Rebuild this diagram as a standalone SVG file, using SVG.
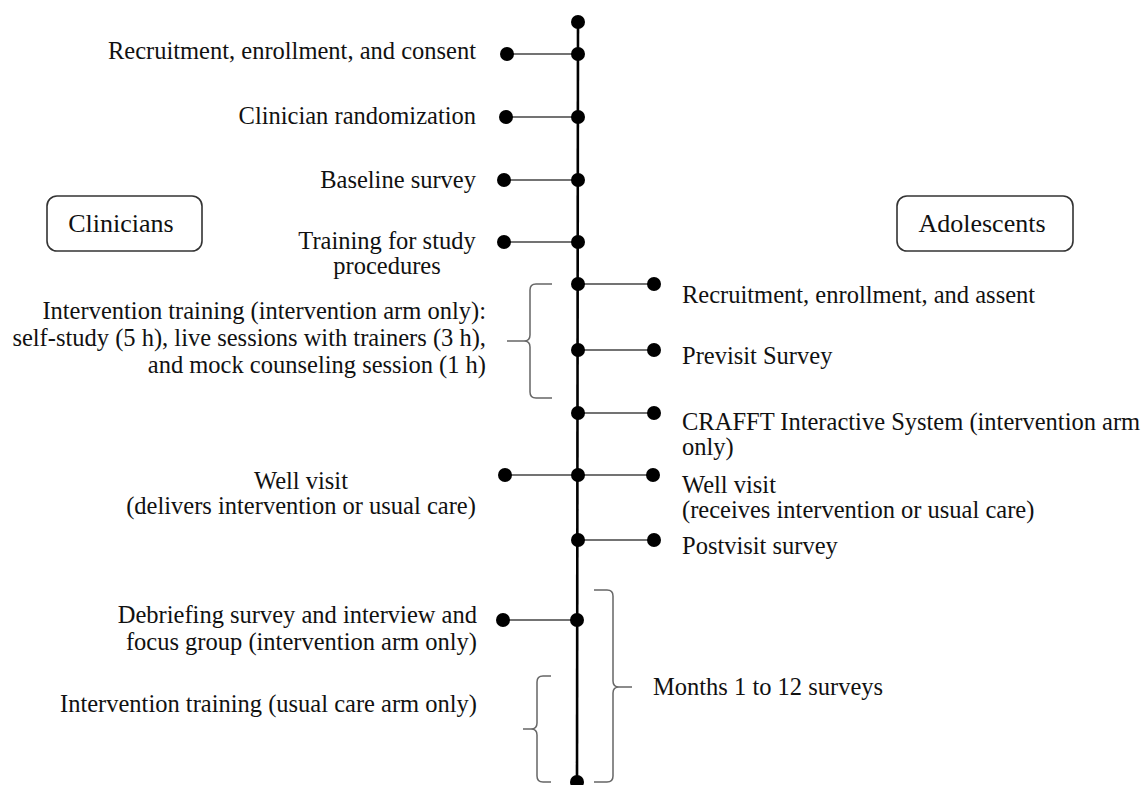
<svg xmlns="http://www.w3.org/2000/svg" width="1142" height="785" viewBox="0 0 1142 785">
<style>
text{font-family:"Liberation Serif","Times New Roman",serif;font-size:24.5px;fill:#111}
.e{text-anchor:end}.m{text-anchor:middle}
.big{font-size:26px}
.h{stroke:#444;stroke-width:1.6;fill:none}
.main{stroke:#000;stroke-width:2.6;fill:none}
.br{stroke:#666;stroke-width:1.5;fill:none}
.d{fill:#000}
.box{fill:#fff;stroke:#333;stroke-width:1.6}
</style>
<rect width="1142" height="785" fill="#fff"/>
<g id="connectors">
<line class="main" x1="578" y1="22" x2="577" y2="782"/>
<line class="h" x1="507" y1="54" x2="578" y2="54"/>
<line class="h" x1="506" y1="117" x2="578" y2="117"/>
<line class="h" x1="504" y1="180" x2="578" y2="180"/>
<line class="h" x1="504" y1="242" x2="578" y2="242"/>
<line class="h" x1="578" y1="284" x2="654" y2="284"/>
<line class="h" x1="578" y1="350" x2="654" y2="350"/>
<line class="h" x1="578" y1="413" x2="654" y2="413"/>
<line class="h" x1="505" y1="475" x2="653" y2="475"/>
<line class="h" x1="578" y1="540" x2="654" y2="540"/>
<line class="h" x1="503" y1="620" x2="577" y2="620"/>
</g>
<g id="dots">
<circle class="d" cx="578" cy="22" r="7"/>
<circle class="d" cx="507" cy="54" r="7"/><circle class="d" cx="578" cy="54" r="7"/>
<circle class="d" cx="506" cy="117" r="7"/><circle class="d" cx="578" cy="117" r="7"/>
<circle class="d" cx="504" cy="180" r="7"/><circle class="d" cx="578" cy="180" r="7"/>
<circle class="d" cx="504" cy="242" r="7"/><circle class="d" cx="578" cy="242" r="7"/>
<circle class="d" cx="578" cy="284" r="7"/><circle class="d" cx="654" cy="284" r="7"/>
<circle class="d" cx="578" cy="350" r="7"/><circle class="d" cx="654" cy="350" r="7"/>
<circle class="d" cx="578" cy="413" r="7"/><circle class="d" cx="654" cy="413" r="7"/>
<circle class="d" cx="505" cy="475" r="7"/><circle class="d" cx="578" cy="475" r="7"/><circle class="d" cx="653" cy="475" r="7"/>
<circle class="d" cx="578" cy="540" r="7"/><circle class="d" cx="654" cy="540" r="7"/>
<circle class="d" cx="503" cy="620" r="7"/><circle class="d" cx="577" cy="620" r="7"/>
<circle class="d" cx="577" cy="782" r="7"/>
</g>
<g id="braces">
<path class="br" d="M552,284 H536 Q530,284 530,290 V335 Q530,341 524,341 H507 M524,341 Q530,341 530,347 V392 Q530,398 536,398 H552"/>
<path class="br" d="M551,676 H543 Q537,676 537,682 V723 Q537,729 531,729 H523 M531,729 Q537,729 537,735 V776 Q537,782 543,782 H551"/>
<path class="br" d="M594,590 H607 Q613,590 613,596 V681 Q613,687 619,687 H632 M619,687 Q613,687 613,693 V776 Q613,782 607,782 H594"/>
</g>
<g id="clinicians"><rect class="box" x="47" y="196" width="155" height="55" rx="10"/><text class="m big" x="121" y="232">Clinicians</text></g>
<g id="adolescents"><rect class="box" x="897" y="196" width="176" height="55" rx="10"/><text class="m big" x="982" y="232">Adolescents</text></g>
<g id="n1"><text class="e" x="476" y="59">Recruitment, enrollment, and consent</text></g>
<g id="n2"><text class="e" x="476" y="124">Clinician randomization</text></g>
<g id="n3"><text class="e" x="476" y="188">Baseline survey</text></g>
<g id="n4"><text class="m" x="387" y="249">Training for study</text><text class="m" x="387" y="274">procedures</text></g>
<g id="n5"><text class="e" x="486" y="319">Intervention training (intervention arm only):</text><text class="e" x="486" y="346">self-study (5 h), live sessions with trainers (3 h),</text><text class="e" x="486" y="373">and mock counseling session (1 h)</text></g>
<g id="n6"><text class="m" x="301" y="489">Well visit</text><text class="m" x="301" y="514">(delivers intervention or usual care)</text></g>
<g id="n7"><text class="e" x="477" y="623">Debriefing survey and interview and</text><text class="e" x="477" y="650">focus group (intervention arm only)</text></g>
<g id="n8"><text class="e" x="477" y="712">Intervention training (usual care arm only)</text></g>
<g id="a1"><text x="682" y="303">Recruitment, enrollment, and assent</text></g>
<g id="a2"><text x="682" y="364">Previsit Survey</text></g>
<g id="a3"><text x="682" y="430">CRAFFT Interactive System (intervention arm</text><text x="682" y="455">only)</text></g>
<g id="a4"><text x="682" y="493">Well visit</text><text x="682" y="518">(receives intervention or usual care)</text></g>
<g id="a5"><text x="682" y="554">Postvisit survey</text></g>
<g id="a6"><text x="653" y="695">Months 1 to 12 surveys</text></g>
</svg>
